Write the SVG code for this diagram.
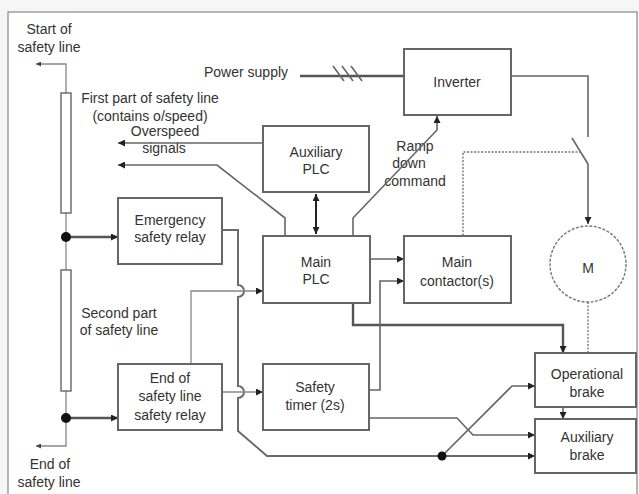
<svg xmlns="http://www.w3.org/2000/svg" width="639" height="494" viewBox="0 0 639 494">
  <style>
    .box { fill: #fff; stroke: #666; stroke-width: 2; }
    .lbl { font-family: "Liberation Sans", Arial, sans-serif; font-size: 14px; fill: #333; text-anchor: middle; }
    .lbl-l { font-family: "Liberation Sans", Arial, sans-serif; font-size: 14px; fill: #333; }
    .wire { fill: none; stroke: #666; stroke-width: 1.6; }
    .thin { fill: none; stroke: #888; stroke-width: 1.3; }
    .heavy { fill: none; stroke: #555; stroke-width: 2.4; }
    .mid { fill: none; stroke: #6a6a6a; stroke-width: 2; }
    .dot { fill: none; stroke: #777; stroke-width: 1.4; stroke-dasharray: 2 1.5; }
    .arr { marker-end: url(#ah); }
  </style>
  <defs>
    <marker id="ah" viewBox="0 0 10 10" refX="10" refY="5" markerUnits="userSpaceOnUse" markerWidth="8" markerHeight="7" orient="auto-start-reverse">
      <path d="M0,0 L10,5 L0,10 z" fill="#222"/>
    </marker>
    <marker id="ahs" viewBox="0 0 10 10" refX="10" refY="5" markerUnits="userSpaceOnUse" markerWidth="6" markerHeight="5" orient="auto">
      <path d="M0,0 L10,5 L0,10 z" fill="#444"/>
    </marker>
  </defs>

  <!-- page and frame -->
  <rect x="0" y="0" width="639" height="494" fill="#f6f6f6"/>
  <rect x="8" y="12" width="629" height="490" fill="#fff" stroke="#888" stroke-width="1.2"/>

  <!-- free labels -->
  <g id="labels">
    <text class="lbl" x="49" y="34">Start of</text>
    <text class="lbl" x="49" y="52">safety line</text>
    <text class="lbl" x="150" y="103">First part of safety line</text>
    <text class="lbl" x="150" y="121">(contains o/speed)</text>
    <text class="lbl" x="165" y="136">Overspeed</text>
    <text class="lbl" x="164" y="153">signals</text>
    <text class="lbl-l" x="204" y="77">Power supply</text>
    <text class="lbl" x="415" y="151">Ramp</text>
    <text class="lbl" x="409" y="168">down</text>
    <text class="lbl" x="415" y="186">command</text>
    <text class="lbl" x="119" y="318">Second part</text>
    <text class="lbl" x="119" y="335">of safety line</text>
    <text class="lbl" x="50" y="469">End of</text>
    <text class="lbl" x="49" y="487">safety line</text>
  </g>

  <!-- connectors -->
  <g id="connectors">
    <!-- safety line -->
    <path class="thin" d="M66,93 V64 H36" marker-end="url(#ahs)"/>
    <path class="thin" d="M66,213 V270"/>
    <path class="thin" d="M66,391 V446 H36" marker-end="url(#ahs)"/>
    <path class="heavy arr" d="M70,237 H118"/>
    <path class="heavy arr" d="M70,418 H118"/>
    <!-- overspeed signals -->
    <path class="wire arr" d="M263,143 H118"/>
    <path class="wire arr" d="M285,236 V218 L217,165 H118"/>
    <!-- PLC link -->
    <path fill="none" stroke="#222" stroke-width="2" d="M316,194 V234" marker-start="url(#ah)" marker-end="url(#ah)"/>
    <!-- ramp down -->
    <path class="wire arr" d="M353,236 V218 L437,130 V116"/>
    <!-- power feed -->
    <path class="heavy" d="M300,76 H404"/>
    <path class="wire" d="M333,66 L344,81 M342,66 L353,81 M351,66 L362,81"/>
    <path class="wire" d="M511,76 H588 V137"/>
    <path class="wire" d="M572,138 L588,164"/>
    <path class="wire arr" d="M588,164 V224"/>
    <path class="dot" d="M581,152 H463 V236"/>
    <path class="dot" d="M588,302 V353"/>
    <!-- emergency relay to auxiliary brake, hopping over two crossings -->
    <path class="mid arr" d="M222,230 H238 V285 A6,6 0 0 1 238,297 V386 A6,6 0 0 1 238,398 V431 L267,456 H535"/>
    <path class="wire arr" d="M442,456 L512,386 H535"/>
    <!-- end relay outputs -->
    <path class="thin arr" d="M191,364 V291 H263"/>
    <path class="thin arr" d="M222,392 H263"/>
    <!-- main PLC outputs -->
    <path class="wire arr" d="M370,259 H404"/>
    <path class="heavy arr" d="M353,303 V325 H563 V353"/>
    <!-- timer outputs -->
    <path class="wire arr" d="M369,390 H380 V281 H404"/>
    <path class="wire arr" d="M369,418 H457 L473,435 H535"/>
    <!-- brake chain -->
    <path class="wire arr" d="M563,407 V419"/>
    <circle cx="66" cy="237" r="5" fill="#111"/>
    <circle cx="66" cy="418" r="5" fill="#111"/>
    <circle cx="442" cy="456" r="4.5" fill="#111"/>
  </g>

  <!-- resistive segments of the safety line -->
  <g id="line-part-1"><rect x="61" y="93" width="10" height="120" fill="#fff" stroke="#666" stroke-width="1.4"/></g>
  <g id="line-part-2"><rect x="61" y="270" width="10" height="121" fill="#fff" stroke="#666" stroke-width="1.4"/></g>

  <g id="inverter">
    <rect class="box" x="404" y="49" width="107" height="66"/>
    <text class="lbl" x="457" y="87">Inverter</text>
  </g>
  <g id="aux-plc">
    <rect class="box" x="263" y="126" width="106" height="66"/>
    <text class="lbl" x="316" y="157">Auxiliary</text>
    <text class="lbl" x="316" y="174">PLC</text>
  </g>
  <g id="main-plc">
    <rect class="box" x="263" y="236" width="107" height="67" stroke-width="2.6"/>
    <text class="lbl" x="316" y="267">Main</text>
    <text class="lbl" x="316" y="284">PLC</text>
  </g>
  <g id="main-contactor">
    <rect class="box" x="404" y="236" width="107" height="67"/>
    <text class="lbl" x="457" y="267">Main</text>
    <text class="lbl" x="457" y="286">contactor(s)</text>
  </g>
  <g id="emergency-relay">
    <rect class="box" x="118" y="198" width="104" height="66"/>
    <text class="lbl" x="170" y="225">Emergency</text>
    <text class="lbl" x="170" y="242">safety relay</text>
  </g>
  <g id="end-relay">
    <rect class="box" x="118" y="364" width="104" height="66"/>
    <text class="lbl" x="170" y="383">End of</text>
    <text class="lbl" x="170" y="401">safety line</text>
    <text class="lbl" x="170" y="420">safety relay</text>
  </g>
  <g id="safety-timer">
    <rect class="box" x="263" y="364" width="106" height="66"/>
    <text class="lbl" x="315" y="392">Safety</text>
    <text class="lbl" x="315" y="410">timer (2s)</text>
  </g>
  <g id="motor">
    <circle cx="588" cy="264" r="38" fill="#fff" stroke="#777" stroke-width="1.4" stroke-dasharray="3 1.5"/>
    <text class="lbl" x="588" y="273">M</text>
  </g>
  <g id="operational-brake">
    <rect class="box" x="535" y="353" width="101" height="54"/>
    <text class="lbl" x="587" y="379">Operational</text>
    <text class="lbl" x="587" y="397">brake</text>
  </g>
  <g id="auxiliary-brake">
    <rect class="box" x="535" y="419" width="101" height="54"/>
    <text class="lbl" x="587" y="442">Auxiliary</text>
    <text class="lbl" x="587" y="460">brake</text>
  </g>
</svg>
